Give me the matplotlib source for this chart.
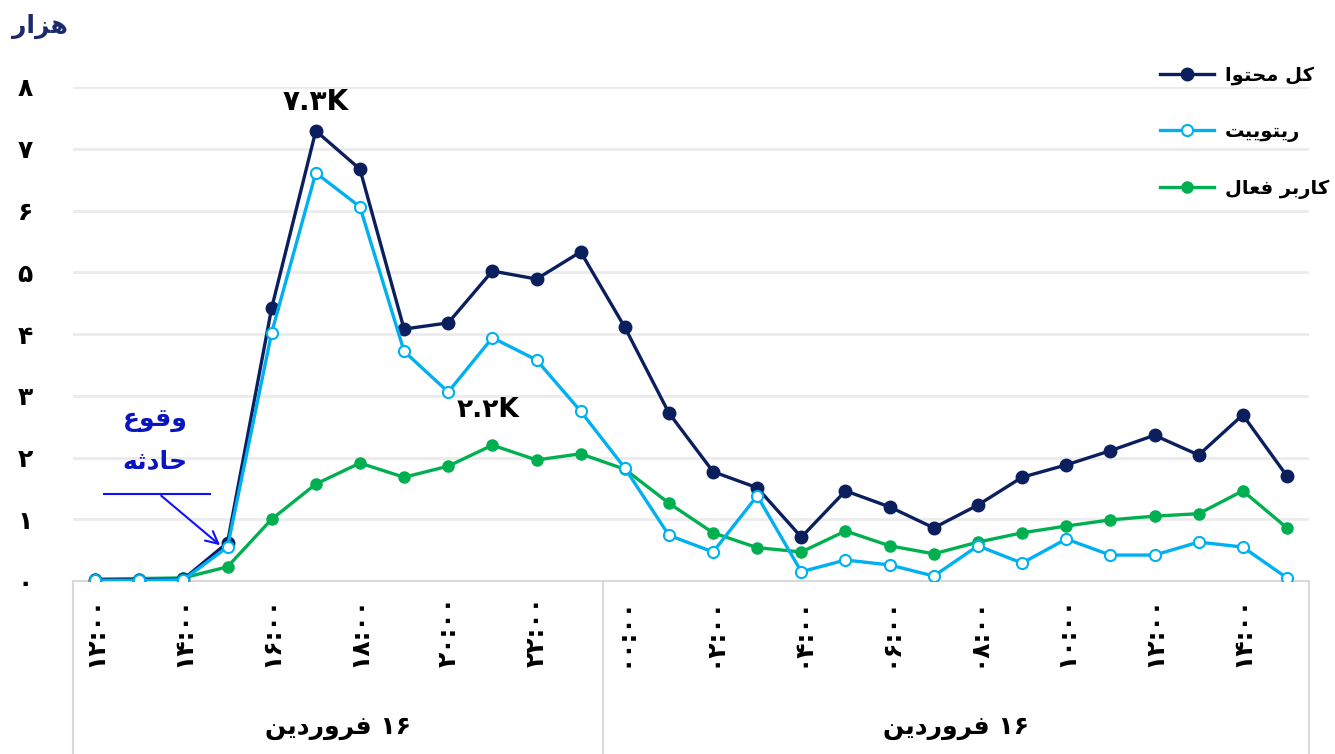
import matplotlib
matplotlib.use('Agg')
import matplotlib.pyplot as plt
import matplotlib.transforms as mtransforms
from matplotlib.lines import Line2D

# --- simple Persian shaping (matplotlib has no bidi/shaping) ---
FORMS = {
    'ا': ('\uFE8D', '\uFE8E', None, None),
    'ب': ('\uFE8F', '\uFE90', '\uFE91', '\uFE92'),
    'ت': ('\uFE95', '\uFE96', '\uFE97', '\uFE98'),
    'ث': ('\uFE99', '\uFE9A', '\uFE9B', '\uFE9C'),
    'ح': ('\uFEA1', '\uFEA2', '\uFEA3', '\uFEA4'),
    'د': ('\uFEA9', '\uFEAA', None, None),
    'ر': ('\uFEAD', '\uFEAE', None, None),
    'ز': ('\uFEAF', '\uFEB0', None, None),
    'ع': ('\uFEC9', '\uFECA', '\uFECB', '\uFECC'),
    'ف': ('\uFED1', '\uFED2', '\uFED3', '\uFED4'),
    'ق': ('\uFED5', '\uFED6', '\uFED7', '\uFED8'),
    'ل': ('\uFEDD', '\uFEDE', '\uFEDF', '\uFEE0'),
    'م': ('\uFEE1', '\uFEE2', '\uFEE3', '\uFEE4'),
    'ن': ('\uFEE5', '\uFEE6', '\uFEE7', '\uFEE8'),
    'ه': ('\uFEE9', '\uFEEA', '\uFEEB', '\uFEEC'),
    'و': ('\uFEED', '\uFEEE', None, None),
    'ک': ('\uFB8E', '\uFB8F', '\uFB90', '\uFB91'),
    'ی': ('\uFBFC', '\uFBFD', '\uFBFE', '\uFBFF'),
}


def fa(text):
    """Shape Persian letters and reverse them for display"""
    out = []
    for i, c in enumerate(text):
        if c not in FORMS:
            out.append(c)
            continue
        prev = text[i - 1] if i > 0 else None
        nxt = text[i + 1] if i + 1 < len(text) else None
        join_prev = prev in FORMS and FORMS[prev][2] is not None
        join_next = FORMS[c][2] is not None and nxt in FORMS
        iso, fin, ini, med = FORMS[c]
        if join_prev and join_next:
            out.append(med)
        elif join_prev:
            out.append(fin)
        elif join_next:
            out.append(ini)
        else:
            out.append(iso)
    return ''.join(reversed(out))


# --- data (thousands), hourly from 12:00 to 15:00 next day ---
hours = [12, 13, 14, 15, 16, 17, 18, 19, 20, 21, 22, 23,
         0, 1, 2, 3, 4, 5, 6, 7, 8, 9, 10, 11, 12, 13, 14, 15]
total = [0.02, 0.02, 0.03, 0.62, 4.42, 7.29, 6.67, 4.08, 4.18, 5.02, 4.89, 5.33,
         4.11, 2.72, 1.77, 1.51, 0.71, 1.46, 1.20, 0.86, 1.23, 1.68, 1.88, 2.11,
         2.36, 2.04, 2.69, 1.70]
retweet = [0.01, 0.01, 0.02, 0.55, 4.02, 6.61, 6.06, 3.72, 3.06, 3.94, 3.58, 2.75,
           1.83, 0.74, 0.47, 1.38, 0.15, 0.34, 0.26, 0.08, 0.57, 0.29, 0.68, 0.42,
           0.42, 0.63, 0.55, 0.05]
active = [0.03, 0.04, 0.05, 0.23, 1.00, 1.57, 1.91, 1.68, 1.86, 2.20, 1.96, 2.06,
          1.81, 1.26, 0.78, 0.54, 0.47, 0.81, 0.57, 0.44, 0.63, 0.78, 0.89, 0.99,
          1.05, 1.09, 1.46, 0.86]
series_names = ['کل محتوا', 'ریتوییت', 'کاربر فعال']
day_label = 'فروردین'
day_num = '۱۶'

PERSIAN_DIGITS = '۰۱۲۳۴۵۶۷۸۹'


def pdig(s):
    return ''.join(PERSIAN_DIGITS[int(ch)] if ch.isdigit() else ch for ch in str(s))


NAVY = '#0b1f5e'
LBLUE = '#00b0f0'
GREEN = '#00b050'

plt.rcParams['font.family'] = ['DejaVu Sans']

fig = plt.figure(figsize=(13.35, 7.54), dpi=100)
ax = fig.add_axes([73 / 1335, 173 / 754, 1236 / 1335, 494 / 754])

x = list(range(len(hours)))
ax.plot(x, total, color=NAVY, lw=2.4, marker='o', ms=9, mfc=NAVY, mec=NAVY,
        label=fa(series_names[0]), zorder=4)
ax.plot(x, retweet, color=LBLUE, lw=2.4, marker='o', ms=8, mfc='white', mec=LBLUE,
        mew=1.5, label=fa(series_names[1]), zorder=5)
ax.plot(x, active, color=GREEN, lw=2.4, marker='o', ms=8, mfc=GREEN, mec=GREEN,
        label=fa(series_names[2]), zorder=3)

ax.set_xlim(-0.5, len(hours) - 0.5)
ax.set_ylim(0, 8)
ax.set_yticks(range(0, 9))
ax.set_yticklabels([pdig(i) for i in range(0, 9)], fontsize=18, fontweight='bold')
ax.tick_params(axis='y', length=0, pad=29)
ax.grid(axis='y', color='#ebebeb', lw=2)
ax.set_axisbelow(True)

ax.set_xticks(x[::2])
ax.set_xticklabels([pdig(f'{h:02d}:00') for h in hours[::2]], rotation=90,
                   fontsize=18, fontweight='bold', va='top')
ax.tick_params(axis='x', length=0, pad=11)

for side in ['top', 'right', 'left']:
    ax.spines[side].set_visible(False)
ax.spines['bottom'].set_color('#d9d9d9')
ax.spines['bottom'].set_linewidth(1.5)

# category separators below the axis
trans = mtransforms.blended_transform_factory(ax.transData, ax.transAxes)
for xs in [-0.5, 11.5, len(hours) - 0.5]:
    ax.add_line(Line2D([xs, xs], [0, -0.36], transform=trans, color='#d9d9d9',
                       lw=1.5, clip_on=False))
for xc in [5.5, 19.5]:
    ax.text(xc, -0.297, fa(day_label) + ' ' + day_num, transform=trans,
            ha='center', va='center', fontsize=18, fontweight='bold')

# unit label
fig.text(40 / 1335, 1 - 26 / 754, fa('هزار'), ha='center', va='center',
         fontsize=18, fontweight='bold', color='#1a2a6c')

# value labels
ax.text(5, 7.76, pdig('7.3') + 'K', ha='center', va='center', fontsize=20,
        fontweight='bold', clip_on=False)
ax.text(8.9, 2.77, pdig('2.2') + 'K', ha='center', va='center', fontsize=19,
        fontweight='bold')

# incident annotation
ax.text(1.36, 2.61, fa('وقوع'), ha='center', va='center', fontsize=18,
        fontweight='bold', color='#0a14c0')
ax.text(1.36, 1.93, fa('حادثه'), ha='center', va='center', fontsize=18,
        fontweight='bold', color='#0a14c0')
ax.plot([0.2, 2.6], [1.41, 1.41], color='#1010ff', lw=1.5, zorder=6)
ax.annotate('', xy=(2.88, 0.55), xytext=(1.45, 1.41),
            arrowprops=dict(arrowstyle='->', color='#1010ff', lw=1.5,
                            mutation_scale=22), zorder=6)

leg = ax.legend(loc='upper left', bbox_to_anchor=(1160 / 1335, 1 - 66 / 754),
                bbox_transform=fig.transFigure, frameon=False, borderaxespad=0,
                borderpad=0, handlelength=2.8, handletextpad=0.55,
                labelspacing=1.9, prop={'size': 14, 'weight': 'bold'})

fig.savefig('out.png', dpi=100, facecolor='white')
